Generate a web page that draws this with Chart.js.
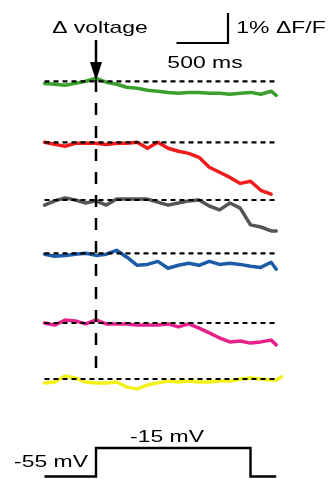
<!DOCTYPE html>
<html>
<head>
<meta charset="utf-8">
<script src="https://cdn.jsdelivr.net/npm/chart.js@4.4.0/dist/chart.umd.min.js"></script>
<style>
  html, body { margin: 0; padding: 0; background: #fff; }
  canvas { display: block; }
</style>
</head>
<body>
<canvas id="traceChart" width="335" height="479"></canvas>
<script>
// sample times (ms), 0 = start of the voltage step
const timeMs = [-500, -400, -300, -200, -100, 0, 100, 200, 300, 400, 500, 600,
  700, 800, 900, 1000, 1100, 1200, 1300, 1400, 1500, 1600, 1700, 1750, 1800];

// ΔF/F (%) of each recording, relative to its own baseline
const greenTrace = [-0.07, -0.10, -0.13, -0.07, 0, 0.10, -0.03, -0.10, -0.20, -0.23, -0.30, -0.33,
  -0.37, -0.40, -0.37, -0.37, -0.40, -0.40, -0.43, -0.40, -0.37, -0.43, -0.33, -0.47];
const redTrace = [0, -0.07, -0.13, -0.03, -0.03, -0.03, -0.07, -0.03, -0.03, 0, -0.20, 0,
  -0.20, -0.30, -0.37, -0.50, -0.83, -1.00, -1.17, -1.37, -1.30, -1.60, -1.73];
const grayTrace = [-0.17, -0.03, 0.07, 0, -0.10, -0.03, -0.17, 0.03, 0.03, 0.03, 0.03, -0.07,
  -0.17, -0.10, -0.03, 0, -0.20, -0.33, -0.10, -0.27, -0.83, -0.90, -1.03, -1.03];
const blueTrace = [-0.03, -0.10, -0.07, -0.03, 0, -0.07, -0.03, 0.10, -0.13, -0.40, -0.37, -0.27,
  -0.50, -0.40, -0.33, -0.40, -0.27, -0.37, -0.33, -0.37, -0.43, -0.47, -0.30, -0.53];
const magentaTrace = [0, -0.07, 0.10, 0.07, -0.03, 0.10, -0.03, -0.03, -0.03, -0.07, -0.07, -0.07,
  -0.03, -0.13, -0.03, -0.17, -0.33, -0.50, -0.63, -0.60, -0.67, -0.63, -0.57, -0.73];
const yellowTrace = [-0.13, -0.10, 0.10, 0.03, -0.10, -0.13, -0.13, -0.10, -0.27, -0.33, -0.20, -0.13,
  -0.07, -0.10, -0.07, -0.10, -0.10, -0.07, -0.07, 0, 0.03, 0, -0.03, -0.03, 0.07];

// command voltage protocol
const stepTimes = [-500, 0, 0, 1500, 1500, 1750];
const stepLevels = [-55, -55, -15, -15, -55, -55];

// scale bar
const scaleBarMs = 500;
const scaleBarPct = 1;

// ---- layout ----
const PX_PER_MS = 0.103;
const ORIGIN_PX = 96;
const PX_PER_PCT = 30;
const W = 335, H = 479;
const toY = px => -px / PX_PER_PCT;   // pixel row -> y value in %

const traces = [
  { data: greenTrace, color: '#3b9f2d', row: 81.3 },
  { data: redTrace, color: '#f01c1c', row: 142.3 },
  { data: grayTrace, color: '#555555', row: 200 },
  { data: blueTrace, color: '#1c5ba6', row: 253.3 },
  { data: magentaTrace, color: '#e6228a', row: 323 },
  { data: yellowTrace, color: '#f3f11a', row: 379 }
];

const datasets = [];

// dashed baselines on top of the traces
traces.forEach(tr => {
  datasets.push({
    data: [{ x: timeMs[0], y: toY(tr.row) }, { x: 1750, y: toY(tr.row) }],
    borderColor: '#000',
    borderWidth: 2.2,
    borderDash: [5, 4],
    order: 0
  });
});

traces.forEach(tr => {
  datasets.push({
    data: tr.data.map((v, i) => ({ x: timeMs[i], y: toY(tr.row) + v })),
    borderColor: tr.color,
    borderWidth: 3.5,
    borderJoinStyle: 'round',
    borderCapStyle: 'round',
    order: 1
  });
});

// stimulus onset marker
datasets.push({
  data: [{ x: stepTimes[1], y: toY(80) }, { x: stepTimes[1], y: toY(371) }],
  borderColor: '#000',
  borderWidth: 2.5,
  borderDash: [12, 11],
  order: 0
});

// scale bar
const barX = (228 - ORIGIN_PX) / PX_PER_MS;
const barY = toY(43);
datasets.push({
  data: [
    { x: barX - scaleBarMs, y: barY },
    { x: barX, y: barY },
    { x: barX, y: barY + scaleBarPct }
  ],
  borderColor: '#000',
  borderWidth: 2.2,
  borderJoinStyle: 'miter',
  order: 0
});

// voltage step
datasets.push({
  data: stepTimes.map((t, i) => ({ x: t, y: stepLevels[i] })),
  yAxisID: 'yV',
  borderColor: '#000',
  borderWidth: 2.4,
  borderJoinStyle: 'miter',
  order: 0
});

const labels = [
  { text: 'Δ voltage', x: 100, y: 33 },
  { text: '1% ΔF/F', x: 281, y: 33 },
  { text: scaleBarMs + ' ms', x: 205, y: 68 },
  { text: stepLevels[2] + ' mV', x: 167, y: 442 },
  { text: stepLevels[0] + ' mV', x: 51, y: 467 }
];

const annotations = {
  id: 'annotations',
  afterDatasetsDraw(chart) {
    const { ctx, scales } = chart;
    const ax = scales.x.getPixelForValue(stepTimes[1]);
    ctx.save();
    ctx.strokeStyle = '#000';
    ctx.fillStyle = '#000';
    // arrow pointing at the step onset
    ctx.lineWidth = 2.5;
    ctx.beginPath();
    ctx.moveTo(ax, 40);
    ctx.lineTo(ax, 64);
    ctx.stroke();
    ctx.beginPath();
    ctx.moveTo(ax - 6, 62);
    ctx.lineTo(ax + 6, 62);
    ctx.lineTo(ax, 81);
    ctx.closePath();
    ctx.fill();
    // text labels
    ctx.font = '17px "Liberation Sans", Arial, sans-serif';
    ctx.textAlign = 'center';
    ctx.textBaseline = 'alphabetic';
    labels.forEach(l => {
      ctx.save();
      ctx.translate(l.x, l.y);
      ctx.scale(1.35, 1);
      ctx.fillText(l.text, 0, 0);
      ctx.restore();
    });
    ctx.restore();
  }
};

new Chart(document.getElementById('traceChart'), {
  type: 'line',
  data: { datasets },
  options: {
    responsive: false,
    animation: false,
    events: [],
    layout: { padding: 0 },
    elements: { point: { radius: 0 }, line: { tension: 0 } },
    plugins: { legend: { display: false }, tooltip: { enabled: false } },
    scales: {
      x: { type: 'linear', display: false, min: -ORIGIN_PX / PX_PER_MS, max: (W - ORIGIN_PX) / PX_PER_MS },
      y: { type: 'linear', display: false, min: toY(H), max: 0 },
      yV: { type: 'linear', display: false, min: -58.5, max: 613.8 }
    }
  },
  plugins: [annotations]
});
</script>
</body>
</html>
